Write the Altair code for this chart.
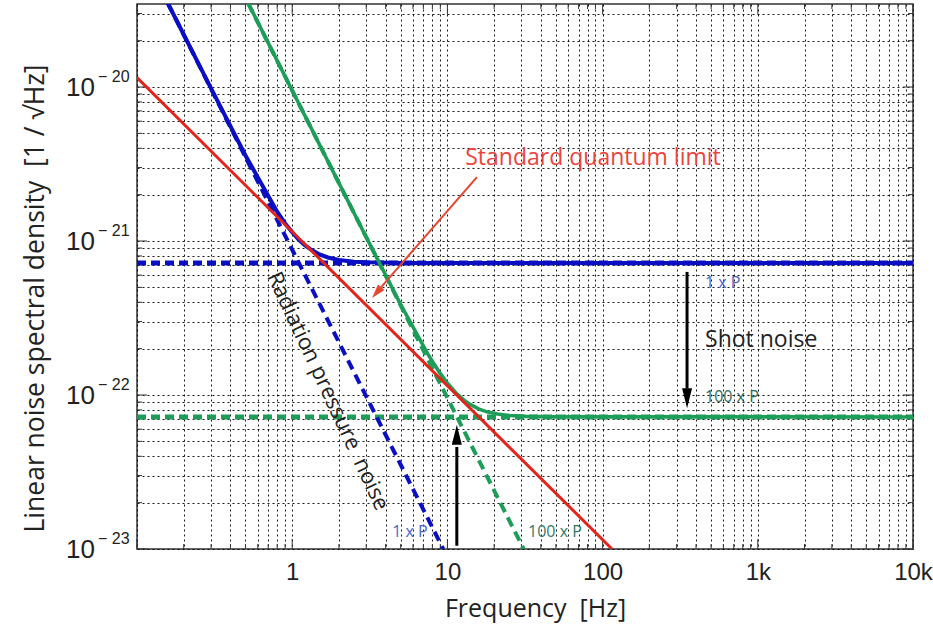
import altair as alt
import pandas as pd

# ---------------- data ----------------
# Standard quantum limit (red, straight 1/f on log-log)
sql_f = [0.1, 115.0]
sql_h = [1.15e-20, 1.0e-23]

# Shot noise levels (dashed horizontals)
shot_f = [0.1, 10000.0]
shot1_h = [7.2e-22, 7.2e-22]
shot100_h = [7.2e-23, 7.2e-23]

# Radiation pressure noise (dashed, 1/f^2)
rp1_f = [0.158, 9.4]
rp1_h = [3.5e-20, 1.0e-23]
rp100_f = [0.52, 31.0]
rp100_h = [3.5e-20, 1.0e-23]

# Total noise, 1 x P (blue solid)
tot1_f = [0.158, 0.3, 0.5, 0.8, 0.9, 1.0, 1.1, 1.2, 1.3, 1.5, 1.7, 2.0, 2.5, 3.0, 5.0, 10000.0]
tot1_h = [3.5e-20, 9.8e-21, 3.59e-21, 1.55e-21, 1.30e-21, 1.14e-21, 1.02e-21, 9.44e-22,
          8.89e-22, 8.19e-22, 7.82e-22, 7.53e-22, 7.34e-22, 7.27e-22, 7.21e-22, 7.2e-22]

# Total noise, 100 x P (green solid)
tot100_f = [0.52, 1.0, 3.0, 5.0, 7.5, 9.0, 10.0, 11.5, 13.0, 14.0, 16.0, 18.0, 21.0, 25.0, 32.0, 45.0, 10000.0]
tot100_h = [3.5e-20, 9.5e-21, 1.058e-21, 3.87e-22, 1.836e-22, 1.376e-22, 1.192e-22, 1.017e-22,
            9.13e-23, 8.68e-23, 8.10e-23, 7.77e-23, 7.52e-23, 7.36e-23, 7.26e-23, 7.215e-23, 7.2e-23]

# axis ticks / labels
x_major = [0.1, 1, 10, 100, 1000, 10000]
x_labels = ["", "1", "10", "100", "1k", "10k"]
y_major = [1e-23, 1e-22, 1e-21, 1e-20]
y_base = ["10", "10", "10", "10"]
y_exp = ["\u2212 23", "\u2212 22", "\u2212 21", "\u2212 20"]
minor_mult = [1, 2, 3, 4, 5, 6, 7, 8, 9]

BLUE = "#0a0fc4"
GREEN = "#1c9e58"
RED = "#e3241b"
YMAX = 3.46e-20
NB = "\u00a0"

x_vals = []
for d in [0.1, 1.0, 10.0, 100.0, 1000.0]:
    for m in minor_mult:
        x_vals.append(round(m * d, 6))
x_vals.append(10000.0)

y_vals = []
for e in [-23, -22, -21, -20]:
    for m in minor_mult:
        v = float(f"{m}e{e}")
        if v <= YMAX:
            y_vals.append(v)

x_expr = " : ".join(
    [f"datum.value == {v} ? '{l}'" for v, l in zip(x_major, x_labels)]) + " : ''"

xs = alt.Scale(type="log", domain=[0.1, 10000], nice=False)
ys = alt.Scale(type="log", domain=[1e-23, YMAX], nice=False)

xaxis = alt.Axis(values=x_vals, labelExpr=x_expr, grid=True, gridDash=[2, 3], gridColor="black",
                 gridOpacity=0.9, ticks=False, domain=False, labelFontSize=24,
                 labelFont="Liberation Sans", labelColor="#222", labelPadding=11,
                 labelOverlap=False, labelFlush=False,
                 title="Frequency" + NB + NB + "[Hz]", titleFont="Open Sans", titleFontSize=25,
                 titleFontWeight="normal", titleColor="#222", titlePadding=12,
                 titleX=398, titleAlign="center")
yaxis = alt.Axis(values=y_vals, labels=False, grid=True, gridDash=[2, 3], gridColor="black",
                 gridOpacity=0.9, ticks=False, domain=False,
                 title="Linear noise spectral density" + NB + NB + "[1 / \u221aHz]",
                 titleFont="Open Sans",
                 titleFontSize=26.5, titleFontWeight="normal", titleColor="#222",
                 titleX=-102, titleY=294, titleBaseline="middle", titleAngle=-90)

X = alt.X("f:Q", scale=xs, axis=xaxis)
Y = alt.Y("h:Q", scale=ys, axis=yaxis)


def line(fs, hs, color, width, dash=None):
    kw = dict(color=color, strokeWidth=width, clip=True, strokeCap="butt")
    if dash:
        kw["strokeDash"] = dash
    return alt.Chart(pd.DataFrame({"f": fs, "h": hs})).mark_line(**kw).encode(x=X, y=Y)


def text(t, f, h, size, color, align="center", angle=0, font="Open Sans"):
    kw = dict(fontSize=size, color=color, align=align, baseline="middle", font=font)
    if angle:
        kw["angle"] = angle
    return alt.Chart(pd.DataFrame({"f": [f], "h": [h], "t": [t]})).mark_text(**kw).encode(
        x=X, y=Y, text="t:N")


def head(f, h, path, size, color, angle=0):
    kw = dict(shape=path, size=size, color=color, filled=True, opacity=1, strokeWidth=0)
    if angle:
        kw["angle"] = angle
    return alt.Chart(pd.DataFrame({"f": [f], "h": [h]})).mark_point(**kw).encode(x=X, y=Y)


DOWN = "M0,0 L-0.25,-1 L0.25,-1 Z"
UP = "M0,0 L-0.25,1 L0.25,1 Z"
RDOWN = "M0,0 L-0.3,-1 L0.3,-1 Z"

# y tick labels drawn as text so the exponent can be a real superscript
ylab_df = pd.DataFrame({"f": [0.1] * 4, "h": y_major, "b": y_base, "e": y_exp})
ylab_base = alt.Chart(ylab_df).mark_text(
    font="Liberation Sans", fontSize=26, color="#222", align="right", baseline="middle", dx=-42, dy=1
).encode(x=X, y=Y, text="b:N")
ylab_exp = alt.Chart(ylab_df).mark_text(
    font="Liberation Sans", fontSize=16, color="#222", align="left", baseline="middle", dx=-39, dy=-10
).encode(x=X, y=Y, text="e:N")

# inward tick marks on the frame
x_major_t = [v for v in x_vals if v in (0.1, 1.0, 10.0, 100.0, 1000.0, 10000.0)]
x_minor_t = [v for v in x_vals if v not in x_major_t]
y_minor_t = [v for v in y_vals if v not in y_major]


def xticks(vals, length):
    df = pd.DataFrame({"f": vals})
    bot = alt.Chart(df).mark_rule(color="#333", strokeWidth=1).encode(
        x=X, y=alt.value(545), y2=alt.value(545 - length))
    top = alt.Chart(df).mark_rule(color="#333", strokeWidth=1).encode(
        x=X, y=alt.value(0), y2=alt.value(length))
    return [bot, top]


def yticks(vals, length):
    df = pd.DataFrame({"h": vals})
    lft = alt.Chart(df).mark_rule(color="#333", strokeWidth=1).encode(
        y=Y, x=alt.value(0), x2=alt.value(length))
    rgt = alt.Chart(df).mark_rule(color="#333", strokeWidth=1).encode(
        y=Y, x=alt.value(776), x2=alt.value(776 - length))
    return [lft, rgt]


layers = (
    xticks(x_major_t, 10) + xticks(x_minor_t, 5) + yticks(y_major, 10) + yticks(y_minor_t, 5)
    + [
        line(shot_f, shot1_h, BLUE, 5, [9, 5]),
        line(shot_f, shot100_h, GREEN, 5, [9, 5]),
        line(rp1_f, rp1_h, BLUE, 4, [10, 6]),
        line(rp100_f, rp100_h, GREEN, 4, [10, 6]),
        line(tot1_f, tot1_h, BLUE, 4),
        line(tot100_f, tot100_h, GREEN, 3.6),
        line(sql_f, sql_h, RED, 3),
        # arrows
        line([350, 350], [6.3e-22, 1.1e-22], "black", 3),
        head(350, 8.2e-23, DOWN, 1600, "black"),
        line([11.5, 11.5], [1.05e-23, 4.6e-23], "black", 3),
        head(11.5, 6.4e-23, UP, 1600, "black"),
        line([15.5, 3.73], [2.6e-21, 5.0e-22], "#e8452f", 2),
        head(3.27, 4.27e-22, RDOWN, 784, "#e8452f", 41),
        # texts
        text("Standard quantum limit", 86.7, 3.46e-21, 23, "#e8453c"),
        text("Radiation pressure" + NB + NB + "noise", 1.70, 1.06e-22, 22, "#222222", angle=65),
        text("1 x P", 5.74, 1.29e-23, 16, "#4a64c8"),
        text("100 x P", 49.3, 1.29e-23, 16, "#2f7a68"),
        text("1 x P", 457, 5.33e-22, 16, "#4a64c8", align="left"),
        text("Shot noise", 457, 2.27e-22, 23, "#222222", align="left"),
        text("100 x P", 457, 9.7e-23, 16, "#2f6a5a", align="left"),
        ylab_base,
        ylab_exp,
    ]
)

chart = alt.layer(*layers).properties(
    width=776, height=545,
    padding={"left": 137, "top": 4, "right": 20, "bottom": 85},
    autosize=alt.AutoSizeParams(type="none"),
    background="white",
).configure_view(stroke="#333333", strokeWidth=1.5)

chart.save("out.html", embed_options={"renderer": "svg", "actions": False})
